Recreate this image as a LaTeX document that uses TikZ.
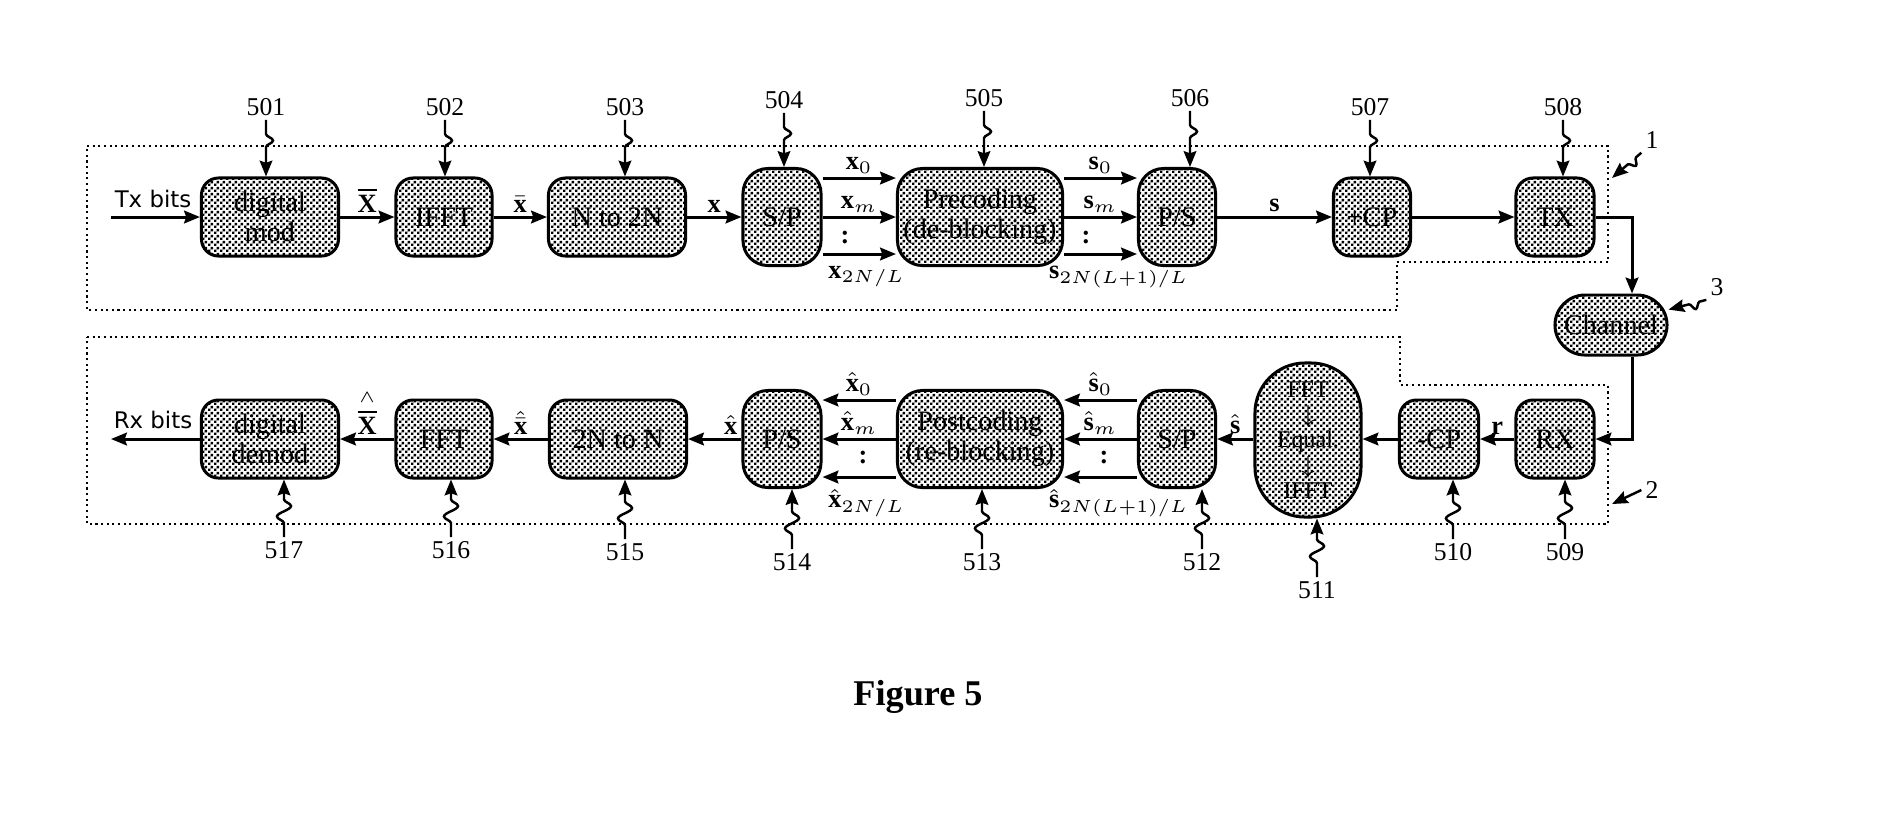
\documentclass[tikz,border=0pt]{standalone}
\usepackage{fontspec}
\setmainfont{Liberation Serif}
\setsansfont{DejaVu Sans}
\usetikzlibrary{arrows.meta,patterns,decorations.pathmorphing}

% fine checker of dots for the blocks
\pgfdeclarepatternformonly{boxdots}{\pgfpointorigin}{\pgfqpoint{1.6pt}{1.6pt}}{\pgfqpoint{1.6pt}{1.6pt}}{%
  \pgfpathrectangle{\pgfqpoint{0pt}{0pt}}{\pgfqpoint{0.72pt}{0.72pt}}%
  \pgfpathrectangle{\pgfqpoint{0.8pt}{0.8pt}}{\pgfqpoint{0.72pt}{0.72pt}}%
  \pgfusepath{fill}}

\tikzset{
  blk/.style={draw,line width=0.85pt,pattern=boxdots,rounded corners=0.17cm,minimum height=0.78cm,
    inner sep=1pt,align=center,font=\fontsize{8}{8.5}\selectfont},
  tall/.style={blk,minimum height=0.97cm,rounded corners=0.25cm},
  sig/.style={line width=0.85pt,-{Stealth[length=4.5pt,width=3.6pt,inset=0.6pt]}},
  lead/.style={line width=0.7pt,-{Stealth[length=4.5pt,width=3.6pt,inset=0.6pt]},decorate,
    decoration={snake,amplitude=2pt,segment length=6pt,pre length=4pt,post length=5.5pt}},
  short/.style={decoration={snake,amplitude=1.8pt,segment length=5pt,pre length=2pt,post length=4.5pt}},
  num/.style={font=\fontsize{7.3}{8}\selectfont,inner sep=1pt},
  lbl/.style={font=\fontsize{7.5}{8}\selectfont,inner sep=1pt},
  zone/.style={densely dotted,line width=0.6pt},
}

\begin{document}
\begin{tikzpicture}[x=0.01cm,y=-0.01cm]
	\useasboundingbox (0,0) rectangle (1878,826);
	
	%zones
	\draw[zone] (87,146) -- (1608,146) -- (1608,262) -- (1397,262) -- (1397,310) -- (87,310) -- cycle; %Tx
	\draw[zone] (87,337) -- (1400,337) -- (1400,385) -- (1608,385) -- (1608,524) -- (87,524) -- cycle; %Rx
	
	%rows
	\coordinate (t0) at (0,178);
	\coordinate (t1) at (0,217);
	\coordinate (t2) at (0,254);
	\coordinate (r0) at (0,400);
	\coordinate (r1) at (0,439);
	\coordinate (r2) at (0,477);
	\coordinate (cx) at (1632,0);
	
	%transmitter
	\node[blk,minimum width=1.37cm] (b501) at (270,217) {digital\\mod};
	\node[blk,minimum width=0.96cm] (b502) at (444,217) {IFFT};
	\node[blk,minimum width=1.37cm] (b503) at (617,217) {N to 2N};
	\node[tall,minimum width=0.78cm] (b504) at (782,217) {S/P};
	\node[tall,minimum width=1.65cm] (b505) at (980,217) {Precoding\\(de-blocking)};
	\node[tall,minimum width=0.77cm] (b506) at (1177,217) {P/S};
	\node[blk,minimum width=0.77cm] (b507) at (1372,217) {+CP};
	\node[blk,minimum width=0.78cm] (b508) at (1555,217) {TX};
	\node[blk,minimum width=1.12cm,minimum height=0.6cm,rounded corners=0.3cm] (chan) at (1611,325) {Channel};
	
	%receiver
	\node[blk,minimum width=0.78cm] (b509) at (1555,439) {RX};
	\node[blk,minimum width=0.79cm] (b510) at (1439,439) {-CP};
	\node[blk,minimum width=1.06cm,minimum height=1.54cm,rounded corners=0.5cm,font=\fontsize{6.8}{7.2}\selectfont] (b511) at (1308,440) {FFT\\$\downarrow$\\Equal.\\$\downarrow$\\IFFT};
	\node[tall,minimum width=0.77cm] (b512) at (1177,439) {S/P};
	\node[tall,minimum width=1.65cm] (b513) at (980,439) {Postcoding\\(re-blocking)};
	\node[tall,minimum width=0.78cm] (b514) at (782,439) {P/S};
	\node[blk,minimum width=1.37cm] (b515) at (618,439) {2N to N};
	\node[blk,minimum width=0.96cm] (b516) at (444,439) {FFT};
	\node[blk,minimum width=1.37cm] (b517) at (270,439) {digital\\demod};
	
	%Tx signals
	\coordinate (txin) at (111,217);
	\node[font=\sffamily\fontsize{6.5}{7}\selectfont,inner sep=0pt] (txbits) at (153,199) {Tx bits};
	\draw[sig] (txin) -- (b501);
	\draw[sig] (b501) -- node[lbl,above] (lXb) {$\overline{\mathbf{X}}$} (b502);
	\draw[sig] (b502) -- node[lbl,above] (lxb) {$\bar{\mathbf{x}}$} (b503);
	\draw[sig] (b503) -- node[lbl,above] (lx) {$\mathbf{x}$} (b504);
	\draw[sig] (b504.east |- t0) -- node[lbl,above] (lx0) {$\mathbf{x}_0$} (b505.west |- t0);
	\draw[sig] (b504.east |- t1) -- node[lbl,above] (lxm) {$\mathbf{x}_m$} (b505.west |- t1);
	\draw[sig] (b504.east |- t2) -- node[lbl,below=2pt,pos=0.6] (lxe) {$\mathbf{x}_{2N/L}$} (b505.west |- t2);
	\node[lbl] (dx) at (845,237) {\textbf{:}};
	\draw[sig] (b505.east |- t0) -- node[lbl,above] (ls0) {$\mathbf{s}_0$} (b506.west |- t0);
	\draw[sig] (b505.east |- t1) -- node[lbl,above] (lsm) {$\mathbf{s}_m$} (b506.west |- t1);
	\draw[sig] (b505.east |- t2) -- node[lbl,below=2pt,pos=0.75] (lse) {$\mathbf{s}_{2N(L+1)/L}$} (b506.west |- t2);
	\node[lbl] (ds) at (1086,237) {\textbf{:}};
	\draw[sig] (b506) -- node[lbl,above] (ls) {$\mathbf{s}$} (b507);
	\draw[sig] (b507) -- (b508);
	\draw[sig] (b508.east) -| (chan.north -| cx);
	
	%Rx signals
	\coordinate (rxout) at (111,439);
	\node[font=\sffamily\fontsize{6.5}{7}\selectfont,inner sep=0pt] (rxbits) at (153,420) {Rx bits};
	\draw[sig] (chan.south -| cx) |- (b509.east);
	\draw[sig] (b509) -- node[lbl,above] (lr) {$\mathbf{r}$} (b510);
	\draw[sig] (b510) -- (b511.east |- r1);
	\draw[sig] (b511.west |- r1) -- node[lbl,above] (lsh) {$\hat{\mathbf{s}}$} (b512);
	\draw[sig] (b512.west |- r0) -- node[lbl,above] (lsh0) {$\hat{\mathbf{s}}_0$} (b513.east |- r0);
	\draw[sig] (b512.west |- r1) -- node[lbl,above] (lshm) {$\hat{\mathbf{s}}_m$} (b513.east |- r1);
	\draw[sig] (b512.west |- r2) -- node[lbl,below=2pt,pos=0.25] (lshe) {$\hat{\mathbf{s}}_{2N(L+1)/L}$} (b513.east |- r2);
	\node[lbl] (dsh) at (1104,457) {\textbf{:}};
	\draw[sig] (b513.west |- r0) -- node[lbl,above] (lxh0) {$\hat{\mathbf{x}}_0$} (b514.east |- r0);
	\draw[sig] (b513.west |- r1) -- node[lbl,above] (lxhm) {$\hat{\mathbf{x}}_m$} (b514.east |- r1);
	\draw[sig] (b513.west |- r2) -- node[lbl,below=2pt,pos=0.4] (lxhe) {$\hat{\mathbf{x}}_{2N/L}$} (b514.east |- r2);
	\node[lbl] (dxh) at (863,457) {\textbf{:}};
	\draw[sig] (b514) -- node[lbl,above,pos=0.2] (lxh) {$\hat{\mathbf{x}}$} (b515);
	\draw[sig] (b515) -- node[lbl,above] (lxbh) {$\hat{\bar{\mathbf{x}}}$} (b516);
	\draw[sig] (b516) -- node[lbl,above] (lXbh) {$\stackrel{\wedge}{\overline{\mathbf{X}}}$} (b517);
	\draw[sig] (b517) -- (rxout);
	
	%reference numbers, top
	\node[num] (l501) at (266,107) {501};
	\node[num] (l502) at (445,107) {502};
	\node[num] (l503) at (625,107) {503};
	\node[num] (l504) at (784,100) {504};
	\node[num] (l505) at (984,98) {505};
	\node[num] (l506) at (1190,98) {506};
	\node[num] (l507) at (1370,107) {507};
	\node[num] (l508) at (1563,107) {508};
	\foreach \n in {501,...,508}
		\draw[lead] (l\n.south) -- (b\n.north -| l\n);
	
	%reference numbers, bottom
	\node[num] (l509) at (1565,552) {509};
	\node[num] (l510) at (1453,552) {510};
	\node[num] (l511) at (1317,590) {511};
	\node[num] (l512) at (1202,562) {512};
	\node[num] (l513) at (982,562) {513};
	\node[num] (l514) at (792,562) {514};
	\node[num] (l515) at (625,552) {515};
	\node[num] (l516) at (451,550) {516};
	\node[num] (l517) at (284,550) {517};
	\foreach \n in {509,...,517}
		\draw[lead] (l\n.north) -- (b\n.south -| l\n);
	
	%zone and channel numbers
	\coordinate (txz) at (1612,178);
	\coordinate (rxz) at (1612,504);
	\node[num] (l1) at (1652,140) {1};
	\node[num] (l2) at (1652,490) {2};
	\node[num] (l3) at (1717,287) {3};
	\draw[lead,short] (l1.south west) -- (txz);
	\draw[lead,short] (l2.west) -- (rxz);
	\draw[lead,short] (l3.south west) -- (chan.15);
	
	\node[font=\bfseries\fontsize{10.3}{12}\selectfont] (fig) at (918,697) {Figure 5};
\end{tikzpicture}
\end{document}
